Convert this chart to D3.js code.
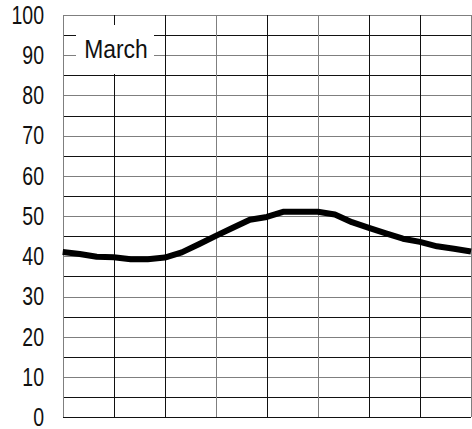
<!DOCTYPE html>
<html>
<head>
<meta charset="utf-8">
<script src="https://cdn.jsdelivr.net/npm/d3@7"></script>
<style>
  html, body { margin: 0; padding: 0; background: #fff; }
  svg { display: block; }
  text { font-family: "Liberation Sans", Arial, sans-serif; fill: #111; }
</style>
</head>
<body>
<svg id="chart" width="472" height="429"></svg>
<script>
// ---- data ----
const hours = d3.range(0, 25);               // x positions (hour of day)
const temps = [41.1, 40.6, 39.9, 39.8, 39.3, 39.3, 39.7, 41.0, 43.0, 45.1,
               47.1, 49.1, 49.8, 51.1, 51.1, 51.1, 50.4, 48.5, 47.1, 45.7,
               44.4, 43.6, 42.5, 41.9, 41.2];
const yTicks = [0, 10, 20, 30, 40, 50, 60, 70, 80, 90, 100];
const yGrid = d3.range(0, 101, 5);
const xGrid = [0, 3, 6, 9, 12, 15, 18, 21, 24];
const title = "March";

// ---- scales ----
const svg = d3.select("#chart");
const x = d3.scaleLinear().domain([0, 24]).range([62.7, 471]);
const y = d3.scaleLinear().domain([0, 100]).range([417.3, 15]);

// ---- grid ----
const grayV = new Set([0, 9, 15, 24]);
svg.append("g").selectAll("line").data(yGrid).join("line")
  .attr("x1", x(0)).attr("x2", x(24))
  .attr("y1", d => Math.round(y(d)) + 0.5).attr("y2", d => Math.round(y(d)) + 0.5)
  .attr("stroke", d => d % 10 === 0 && d !== 0 ? "#7f7f7f" : "#111")
  .attr("stroke-width", 1)
  .attr("shape-rendering", "crispEdges");

svg.append("g").selectAll("line").data(xGrid).join("line")
  .attr("x1", d => Math.round(x(d)) + 0.5).attr("x2", d => Math.round(x(d)) + 0.5)
  .attr("y1", y(100)).attr("y2", y(0))
  .attr("stroke", d => grayV.has(d) ? "#7f7f7f" : "#111")
  .attr("stroke-width", d => d === 24 ? 2 : 1)
  .attr("shape-rendering", "crispEdges");

// ---- y tick labels ----
svg.append("g").selectAll("text").data(yTicks).join("text")
  .attr("transform", d => `translate(44,${y(d)}) scale(0.78,1)`)
  .attr("dy", "0.35em")
  .attr("text-anchor", "end")
  .attr("font-size", 25)
  .text(d => d);

// ---- title box ----
svg.append("rect")
  .attr("x", 76).attr("y", 25).attr("width", 78).attr("height", 49)
  .attr("fill", "#fff");
svg.append("text")
  .attr("transform", "translate(116,57.5) scale(0.88,1)")
  .attr("text-anchor", "middle")
  .attr("font-size", 26)
  .text(title);

// ---- line ----
const line = d3.line().x((d, i) => x(hours[i])).y(d => y(d));
svg.append("path")
  .datum(temps)
  .attr("d", line)
  .attr("fill", "none")
  .attr("stroke", "#000")
  .attr("stroke-width", 6)
  .attr("stroke-linejoin", "round");
</script>
</body>
</html>
